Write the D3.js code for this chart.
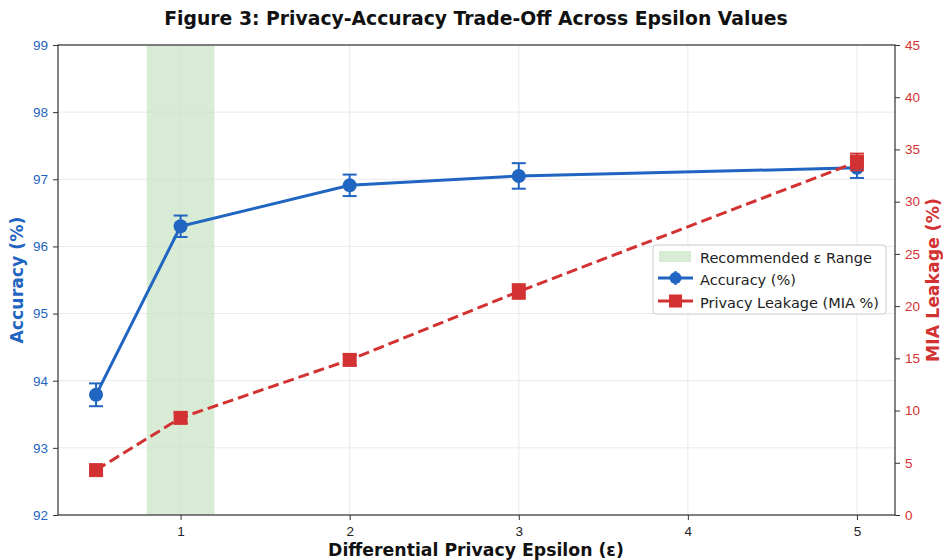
<!DOCTYPE html>
<html>
<head>
<meta charset="utf-8">
<script src="https://cdn.jsdelivr.net/npm/d3@7"></script>
<style>
  body { margin: 0; background: #fff; }
  svg { font-family: "DejaVu Sans", sans-serif; }
</style>
</head>
<body>
<svg id="chart" width="943" height="560"></svg>
<script>
// Epsilon values and measured results
const epsilons = [0.5, 1, 2, 3, 5];
const accuracy = [93.79, 96.30, 96.91, 97.05, 97.17];
const accuracyErr = [0.17, 0.16, 0.16, 0.19, 0.15];
const leakage = [4.3, 9.3, 14.85, 21.4, 33.8];
const leakageErr = [0.4, 0.5, 0.5, 0.7, 0.8];
const recommendedRange = [0.8, 1.2];
const xTicks = [1, 2, 3, 4, 5];
const accTicks = [92, 93, 94, 95, 96, 97, 98, 99];
const leakTicks = [0, 5, 10, 15, 20, 25, 30, 35, 40, 45];

const blue = "#1f65c1";
const red = "#d23232";

const svg = d3.select("#chart");
const m = { left: 58, right: 895, top: 45, bottom: 515 };

const x = d3.scaleLinear().domain([0.275, 5.225]).range([m.left, m.right]);
const yL = d3.scaleLinear().domain([92, 99]).range([m.bottom, m.top]);
const yR = d3.scaleLinear().domain([0, 45]).range([m.bottom, m.top]);

// Recommended epsilon band
svg.append("rect")
  .attr("x", x(recommendedRange[0])).attr("y", m.top)
  .attr("width", x(recommendedRange[1]) - x(recommendedRange[0]))
  .attr("height", m.bottom - m.top)
  .attr("fill", "#a8d5a2").attr("fill-opacity", 0.45);

// Grid
const grid = svg.append("g").attr("stroke", "#d9d9d9").attr("stroke-width", 0.8).attr("stroke-opacity", 0.7);
xTicks.forEach(t => grid.append("line").attr("x1", x(t)).attr("x2", x(t)).attr("y1", m.top).attr("y2", m.bottom));
accTicks.forEach(t => grid.append("line").attr("x1", m.left).attr("x2", m.right).attr("y1", yL(t)).attr("y2", yL(t)));

// Axes
const xAxis = svg.append("g").attr("transform", `translate(0,${m.bottom})`)
  .call(d3.axisBottom(x).tickValues(xTicks).tickFormat(d3.format("d")).tickSize(5).tickPadding(6));
xAxis.selectAll("text").attr("fill", "#222").attr("font-size", 13.5);

const leftAxis = svg.append("g").attr("transform", `translate(${m.left},0)`)
  .call(d3.axisLeft(yL).tickValues(accTicks).tickFormat(d3.format("d")).tickSize(5).tickPadding(5));
leftAxis.selectAll("text").attr("fill", blue).attr("font-size", 13.5);

const rightAxis = svg.append("g").attr("transform", `translate(${m.right},0)`)
  .call(d3.axisRight(yR).tickValues(leakTicks).tickFormat(d3.format("d")).tickSize(5).tickPadding(5));
rightAxis.selectAll("text").attr("fill", red).attr("font-size", 13.5);

[xAxis, leftAxis, rightAxis].forEach(a => {
  a.select(".domain").remove();
  a.selectAll("line").attr("stroke", "#333");
});

// Frame
svg.append("rect").attr("x", m.left).attr("y", m.top)
  .attr("width", m.right - m.left).attr("height", m.bottom - m.top)
  .attr("fill", "none").attr("stroke", "#333").attr("stroke-width", 1.2);

// Accuracy series
const accData = epsilons.map((e, i) => ({ e, v: accuracy[i], err: accuracyErr[i] }));
const accG = svg.append("g");
accG.append("path").datum(accData)
  .attr("fill", "none").attr("stroke", blue).attr("stroke-width", 3)
  .attr("d", d3.line().x(d => x(d.e)).y(d => yL(d.v)));
accData.forEach(d => {
  const cx = x(d.e);
  accG.append("line").attr("x1", cx).attr("x2", cx).attr("y1", yL(d.v - d.err)).attr("y2", yL(d.v + d.err))
    .attr("stroke", blue).attr("stroke-width", 2);
  [d.v - d.err, d.v + d.err].forEach(v => accG.append("line")
    .attr("x1", cx - 7).attr("x2", cx + 7).attr("y1", yL(v)).attr("y2", yL(v))
    .attr("stroke", blue).attr("stroke-width", 2));
  accG.append("circle").attr("cx", cx).attr("cy", yL(d.v)).attr("r", 7).attr("fill", blue);
});

// Privacy leakage series
const leakData = epsilons.map((e, i) => ({ e, v: leakage[i], err: leakageErr[i] }));
const leakG = svg.append("g");
leakG.append("path").datum(leakData)
  .attr("fill", "none").attr("stroke", red).attr("stroke-width", 3).attr("stroke-dasharray", "11,5")
  .attr("d", d3.line().x(d => x(d.e)).y(d => yR(d.v)));
leakData.forEach(d => {
  const cx = x(d.e);
  leakG.append("line").attr("x1", cx).attr("x2", cx).attr("y1", yR(d.v - d.err)).attr("y2", yR(d.v + d.err))
    .attr("stroke", red).attr("stroke-width", 2);
  [d.v - d.err, d.v + d.err].forEach(v => leakG.append("line")
    .attr("x1", cx - 7).attr("x2", cx + 7).attr("y1", yR(v)).attr("y2", yR(v))
    .attr("stroke", red).attr("stroke-width", 2));
  leakG.append("rect").attr("x", cx - 7).attr("y", yR(d.v) - 7).attr("width", 14).attr("height", 14).attr("fill", red);
});

// Legend
const lg = svg.append("g").attr("transform", "translate(653,245)");
lg.append("rect").attr("width", 233).attr("height", 69).attr("rx", 3)
  .attr("fill", "#fff").attr("fill-opacity", 0.85).attr("stroke", "#ccc");
lg.append("rect").attr("x", 6).attr("y", 6).attr("width", 32).attr("height", 11)
  .attr("fill", "#a8d5a2").attr("fill-opacity", 0.45);
lg.append("line").attr("x1", 5).attr("x2", 40).attr("y1", 33).attr("y2", 33).attr("stroke", blue).attr("stroke-width", 3);
lg.append("line").attr("x1", 22.5).attr("x2", 22.5).attr("y1", 26).attr("y2", 40).attr("stroke", blue).attr("stroke-width", 2);
lg.append("circle").attr("cx", 22.5).attr("cy", 33).attr("r", 6).attr("fill", blue);
lg.append("line").attr("x1", 5).attr("x2", 40).attr("y1", 56).attr("y2", 56).attr("stroke", red).attr("stroke-width", 3);
lg.append("rect").attr("x", 16).attr("y", 49.5).attr("width", 13).attr("height", 13).attr("fill", red);
const legendLabels = ["Recommended ε Range", "Accuracy (%)", "Privacy Leakage (MIA %)"];
legendLabels.forEach((t, i) => lg.append("text").attr("x", 47).attr("y", 17.5 + i * 22.5)
  .attr("font-size", 14.5).attr("fill", "#222").text(t));

// Titles
svg.append("text").attr("x", 476).attr("y", 25).attr("text-anchor", "middle")
  .attr("font-size", 18.8).attr("font-weight", "bold").attr("fill", "#111")
  .text("Figure 3: Privacy-Accuracy Trade-Off Across Epsilon Values");
svg.append("text").attr("x", 476).attr("y", 556).attr("text-anchor", "middle")
  .attr("font-size", 17.3).attr("font-weight", "bold").attr("fill", "#111")
  .text("Differential Privacy Epsilon (ε)");
svg.append("text").attr("transform", `translate(23,${(m.top + m.bottom) / 2}) rotate(-90)`)
  .attr("text-anchor", "middle").attr("font-size", 17.3).attr("font-weight", "bold").attr("fill", blue)
  .text("Accuracy (%)");
svg.append("text").attr("transform", `translate(939,${(m.top + m.bottom) / 2}) rotate(-90)`)
  .attr("text-anchor", "middle").attr("font-size", 17.3).attr("font-weight", "bold").attr("fill", red)
  .text("MIA Leakage (%)");
</script>
</body>
</html>
